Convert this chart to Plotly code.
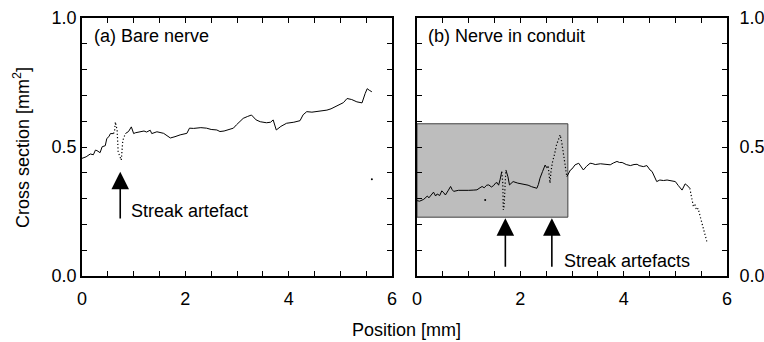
import plotly.graph_objects as go

# ---------------- data ----------------
# (a) Bare nerve
xa = [0, 0.08, 0.16, 0.22, 0.26, 0.29, 0.35, 0.39, 0.45, 0.48, 0.52, 0.55, 0.61, None,
      0.84, 0.9, 0.955, 1.0, 1.03, 1.13, 1.2, 1.25, 1.32, 1.35, 1.45, 1.58, 1.68, 1.71, 1.8, 1.9,
      2.03, 2.08, 2.16, 2.3, 2.41, 2.5, 2.61, 2.67, 2.75, 2.83, 2.93, 2.99, 3.09, 3.12, 3.2, 3.28,
      3.37, 3.45, 3.57, 3.65, 3.70, 3.73, 3.76, 3.85, 3.96, 4.1, 4.22, 4.28, 4.35, 4.45, 4.54,
      4.65, 4.74, 4.82, 4.90, 5.0, 5.06, 5.13, 5.22, 5.32, 5.42, 5.48, 5.52, 5.56, 5.61]
ya = [0.456, 0.462, 0.473, 0.47, 0.488, 0.486, 0.478, 0.501, 0.505, 0.533, 0.54, 0.552, 0.552, None,
      0.552, 0.56, 0.578, 0.552, 0.555, 0.559, 0.562, 0.558, 0.565, 0.552, 0.559, 0.553, 0.537, 0.535, 0.54, 0.547,
      0.553, 0.573, 0.572, 0.575, 0.573, 0.568, 0.566, 0.56, 0.562, 0.566, 0.573, 0.586, 0.605, 0.611, 0.618, 0.624,
      0.605, 0.598, 0.594, 0.596, 0.605, 0.58, 0.566, 0.58, 0.592, 0.596, 0.602, 0.625, 0.637, 0.635, 0.637,
      0.64, 0.643, 0.648, 0.656, 0.669, 0.672, 0.688, 0.684, 0.675, 0.671, 0.707, 0.726, 0.72, 0.714]
xa_streak = [0.61, 0.63, 0.645, 0.66, 0.68, 0.70, 0.73, 0.76, 0.79, 0.84]
ya_streak = [0.552, 0.56, 0.597, 0.575, 0.565, 0.481, 0.46, 0.449, 0.526, 0.552]
xa_dot = [5.61]
ya_dot = [0.375]

# (b) Nerve in conduit
xb = [0, 0.05, 0.13, 0.2, 0.23, 0.28, 0.32, 0.36, 0.39, 0.44, 0.48, 0.52, 0.55, 0.6, 0.65, 0.68, 0.71,
      0.8, 0.9, 1.0, 1.1, 1.16, 1.22, 1.26, 1.3, 1.35, 1.39, 1.44, 1.48, 1.52, 1.55, 1.58, 1.61, 1.64, None,
      1.72, 1.76, 1.79, 1.83, 1.86, 1.95, 2.06, 2.15, 2.22, 2.28, 2.32, 2.35, 2.38, 2.43, 2.48, 2.51, 2.54, None,
      2.90, 2.94, 2.97, 3.0, 3.06, 3.13, 3.17, 3.22, 3.28, 3.35, 3.39, 3.45, 3.55, 3.65, 3.74, 3.8, 3.87,
      3.92, 3.97, 4.05, 4.13, 4.2, 4.26, 4.3, 4.38, 4.45, 4.51, 4.55, 4.6, 4.64, 4.7, 4.77, 4.84, 4.92,
      5.0, 5.06, 5.13, 5.19, 5.22, 5.28]
yb = [0.292, 0.29, 0.297, 0.31, 0.303, 0.315, 0.325, 0.31, 0.318, 0.312, 0.33, 0.322, 0.314, 0.33, 0.347, 0.335, 0.328,
      0.332, 0.331, 0.332, 0.333, 0.334, 0.342, 0.347, 0.342, 0.352, 0.353, 0.345, 0.35, 0.36, 0.362, 0.352, 0.375, 0.404, None,
      0.411, 0.385, 0.353, 0.362, 0.366, 0.36, 0.357, 0.352, 0.346, 0.342, 0.34, 0.355, 0.379, 0.405, 0.43, 0.42, 0.424, None,
      0.385, 0.40, 0.411, 0.415, 0.431, 0.437, 0.425, 0.411, 0.425, 0.437, 0.436, 0.432, 0.435, 0.432, 0.431, 0.438, 0.444,
      0.44, 0.44, 0.432, 0.428, 0.432, 0.433, 0.428, 0.424, 0.428, 0.411, 0.405, 0.385, 0.366, 0.372, 0.37, 0.372, 0.37,
      0.366, 0.35, 0.333, 0.357, 0.353, 0.34]
xb_streak1 = [1.64, 1.66, 1.67, 1.685, 1.70, 1.72]
yb_streak1 = [0.404, 0.36, 0.256, 0.27, 0.33, 0.411]
xb_streak2 = [2.54, 2.56, 2.575, 2.59, 2.62, 2.66, 2.70, 2.74, 2.77, 2.80, 2.83, 2.87, 2.90]
yb_streak2 = [0.424, 0.38, 0.36, 0.40, 0.44, 0.47, 0.508, 0.53, 0.547, 0.52, 0.476, 0.42, 0.385]
xb_tail = [5.28, 5.32, 5.35, 5.38, 5.41, 5.44, 5.48, 5.54, 5.58, 5.61]
yb_tail = [0.34, 0.30, 0.269, 0.275, 0.256, 0.262, 0.23, 0.191, 0.16, 0.133]
xb_dot = [1.32]
yb_dot = [0.295]

# highlighted region in (b)
box_x = [0, 2.92]
box_y = [0.228, 0.59]

# arrows: (x, tip y, tail y)
arrows_a = [(0.74, 0.404, 0.217)]
arrows_b = [(1.71, 0.224, 0.03), (2.61, 0.224, 0.03)]

x_ticks = [0, 2, 4, 6]
y_ticks = [0.0, 0.5, 1.0]

FONT = "Liberation Sans, Arial, sans-serif"

fig = go.Figure()

def line(x, y, xa_, ya_, dash="solid", w=1.0):
    fig.add_trace(go.Scatter(x=x, y=y, mode="lines", xaxis=xa_, yaxis=ya_,
                             line=dict(color="black", width=w, dash=dash),
                             connectgaps=False, showlegend=False, hoverinfo="skip"))

DOT = "1.2px,2.2px"
line(xa, ya, "x", "y")
line(xa_streak, ya_streak, "x", "y", dash=DOT, w=1.2)
fig.add_trace(go.Scatter(x=xa_dot, y=ya_dot, mode="markers", xaxis="x", yaxis="y",
                         marker=dict(color="black", size=2), showlegend=False))

line(xb, yb, "x2", "y2")
line(xb_streak1, yb_streak1, "x2", "y2", dash=DOT, w=1.2)
line(xb_streak2, yb_streak2, "x2", "y2", dash=DOT, w=1.2)
line(xb_tail, yb_tail, "x2", "y2", dash=DOT, w=1.2)
fig.add_trace(go.Scatter(x=xb_dot, y=yb_dot, mode="markers", xaxis="x2", yaxis="y2",
                         marker=dict(color="black", size=2), showlegend=False))

fig.add_shape(type="rect", xref="x2", yref="y2", x0=box_x[0], x1=box_x[1], y0=box_y[0], y1=box_y[1],
              fillcolor="#bdbdbd", line=dict(color="#404040", width=1), layer="below")

ann = []
for (x, tip, tail) in arrows_a:
    ann.append(dict(x=x, y=tip, ax=x, ay=tail, xref="x", yref="y", axref="x", ayref="y",
                    showarrow=True, arrowhead=2, arrowsize=2.2, arrowwidth=1.6, arrowcolor="black",
                    text="", standoff=0))
for (x, tip, tail) in arrows_b:
    ann.append(dict(x=x, y=tip, ax=x, ay=tail, xref="x2", yref="y2", axref="x2", ayref="y2",
                    showarrow=True, arrowhead=2, arrowsize=2.2, arrowwidth=1.6, arrowcolor="black",
                    text="", standoff=0))

tf = dict(family=FONT, size=18, color="black")
ann += [
    dict(x=0.9, y=0.253, xref="x", yref="y", text="Streak artefact", showarrow=False,
         xanchor="left", yanchor="middle", font=tf),
    dict(x=2.81, y=0.06, xref="x2", yref="y2", text="Streak artefacts", showarrow=False,
         xanchor="left", yanchor="middle", font=tf),
    dict(x=0.19, y=0.93, xref="x", yref="y", text="(a) Bare nerve", showarrow=False,
         xanchor="left", yanchor="middle", font=tf),
    dict(x=0.18, y=0.93, xref="x2", yref="y2", text="(b) Nerve in conduit", showarrow=False,
         xanchor="left", yanchor="middle", font=tf),
    dict(x=21 / 764, y=1 - 148 / 342, xref="paper", yref="paper", text="Cross section [mm<sup>2</sup>]",
         textangle=-90, showarrow=False, xanchor="center", yanchor="middle", font=tf),
    dict(x=406 / 764, y=1 - 330 / 342, xref="paper", yref="paper", text="Position [mm]",
         showarrow=False, xanchor="center", yanchor="middle", font=tf),
]

common_x = dict(range=[0, 6], tickvals=x_ticks, ticks="inside", ticklen=5, tickwidth=1.2,
                tickcolor="black", showline=True, linecolor="black", linewidth=1.6, mirror="ticks",
                showgrid=False, zeroline=False, tickfont=tf, ticklabelstandoff=6, automargin=False,
                minor=dict(dtick=0.5, ticks="inside", ticklen=5, tickwidth=1.2, tickcolor="black", showgrid=False))
common_y = dict(range=[0, 1], tickvals=y_ticks, tickformat=".1f", ticks="inside", ticklen=5, tickwidth=1.2,
                tickcolor="black", showline=True, linecolor="black", linewidth=1.6, mirror="ticks",
                showgrid=False, zeroline=False, tickfont=tf, automargin=False,
                minor=dict(dtick=0.1, ticks="inside", ticklen=5, tickwidth=1.2, tickcolor="black", showgrid=False))

ybot = 66 / 342
ytop = 1 - 18 / 342
fig.update_layout(
    width=764, height=342, margin=dict(l=0, r=0, t=0, b=0, autoexpand=False),
    paper_bgcolor="white", plot_bgcolor="white",
    font=tf, showlegend=False,
    xaxis=dict(domain=[82 / 764, 392 / 764], anchor="y", **common_x),
    yaxis=dict(domain=[ybot, ytop], anchor="x", side="left", **common_y),
    xaxis2=dict(domain=[417 / 764, 727 / 764], anchor="y2", **common_x),
    yaxis2=dict(domain=[ybot, ytop], anchor="x2", side="right", ticklabelstandoff=7, **common_y),
    annotations=ann,
)

fig.write_html("out.html")
